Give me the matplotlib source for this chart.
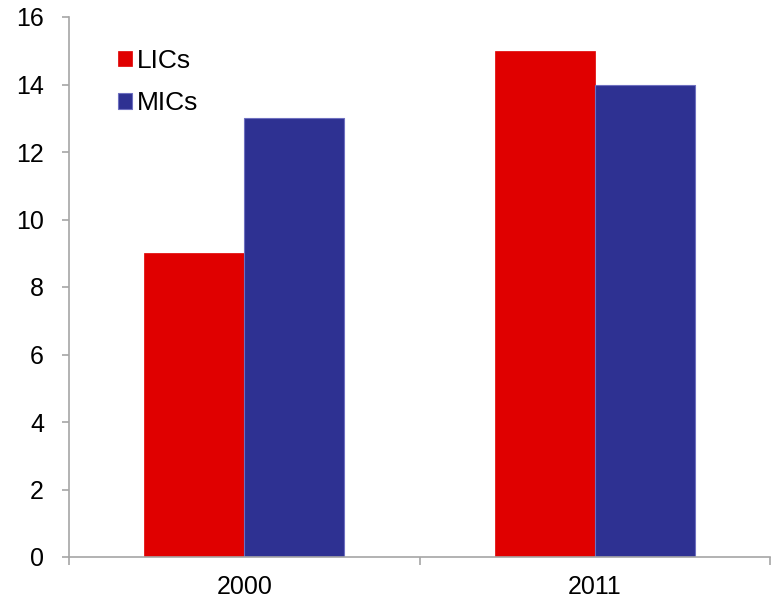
import matplotlib
matplotlib.use("Agg")
import matplotlib.pyplot as plt
import numpy as np

plt.rcParams['font.family'] = ['Liberation Sans', 'DejaVu Sans']

years = ["2000", "2011"]
series_names = ["LICs", "MICs"]
lics = [9, 15]
mics = [13, 14]
yticks = [0, 2, 4, 6, 8, 10, 12, 14, 16]

red = "#E00000"
blue = "#2E3192"
axis_gray = "#A6A6A6"

fig = plt.figure(figsize=(7.73, 6.03), dpi=100)
ax = fig.add_axes([69/773, 1-557/603, 701/773, 540/603])

x = np.arange(len(years))
w = 0.285
ax.bar(x - w/2, lics, w, color=red, edgecolor=red, linewidth=0.5, label=series_names[0])
ax.bar(x + w/2, mics, w, color=blue, edgecolor="#6E70C0", linewidth=0.8, label=series_names[1])

ax.set_xlim(-0.5, len(years) - 0.5)
ax.set_ylim(0, 16)
ax.set_yticks(yticks)
ax.set_yticklabels([str(v) for v in yticks])
ax.set_xticks(x)
ax.set_xticklabels(years)
ax.set_xticks(np.arange(-0.5, len(years), 1.0), minor=True)

for s in ["top", "right"]:
    ax.spines[s].set_visible(False)
for s in ["left", "bottom"]:
    ax.spines[s].set_color(axis_gray)
    ax.spines[s].set_linewidth(1.2)

ax.tick_params(axis="y", which="major", length=5, width=1.2, color=axis_gray,
               labelsize=18, pad=13)
ax.tick_params(axis="x", which="major", length=0, labelsize=18, pad=13)
ax.tick_params(axis="x", which="minor", length=6, width=1.2, color=axis_gray)

leg = ax.legend(loc="upper left", bbox_to_anchor=(118/773, 1-49/603),
                bbox_transform=fig.transFigure, frameon=False, fontsize=19,
                handlelength=0.53, handleheight=0.53, handletextpad=0.19,
                labelspacing=0.7, borderaxespad=0, borderpad=0)

fig.savefig("out.png", dpi=100)
